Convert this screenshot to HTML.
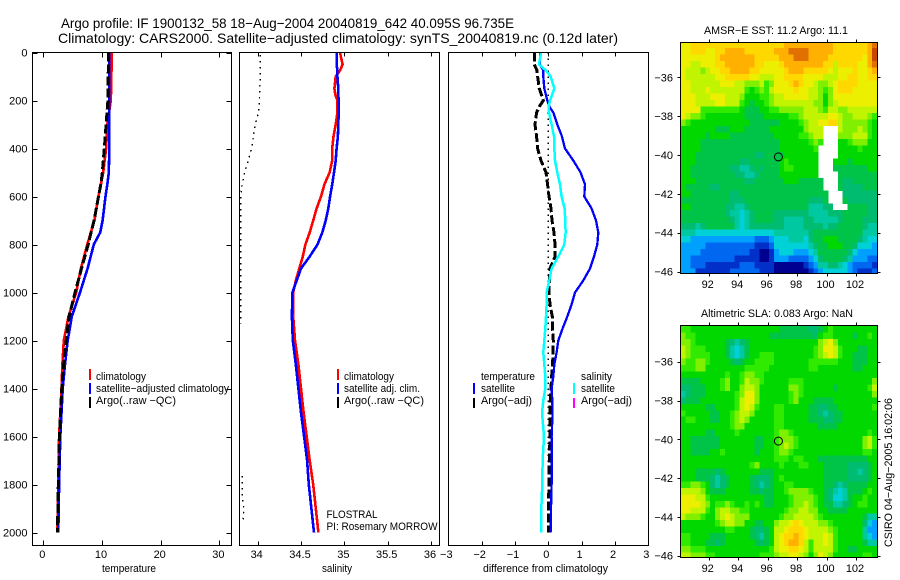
<!DOCTYPE html>
<html lang="en">
<head>
<meta charset="utf-8">
<title>Argo profile</title>
<style>
html,body{margin:0;padding:0;background:#fff;}
svg{display:block;}
text{font-family:"Liberation Sans",sans-serif;font-size:11px;fill:#000;}
.ttl{font-size:14px;}
</style>
</head>
<body>
<svg id="fig" xmlns="http://www.w3.org/2000/svg" width="900" height="580" viewBox="0 0 900 580">
<defs>
<clipPath id="clip-t"><rect x="32" y="52" width="200" height="494"/></clipPath>
<clipPath id="clip-s"><rect x="239" y="52" width="201" height="494"/></clipPath>
<clipPath id="clip-d"><rect x="448" y="52" width="201" height="494"/></clipPath>
<clipPath id="clip-m1"><rect x="680" y="42" width="198" height="232"/></clipPath>
<clipPath id="clip-m2"><rect x="680" y="325" width="198" height="232"/></clipPath>
</defs>
<g id="heat1" clip-path="url(#clip-m1)"></g>
<g id="heat2" clip-path="url(#clip-m2)"></g>
<g id="marks"></g>
<g id="axes"></g>

<text class="ttl" x="61" y="28" textLength="453" lengthAdjust="spacingAndGlyphs">Argo profile: IF 1900132_58 18−Aug−2004 20040819_642 40.095S 96.735E</text>
<text class="ttl" x="58" y="43" textLength="560" lengthAdjust="spacingAndGlyphs">Climatology: CARS2000. Satellite−adjusted climatology: synTS_20040819.nc (0.12d later)</text>

<text x="102" y="572" textLength="54" lengthAdjust="spacingAndGlyphs">temperature</text>
<text x="322" y="572" textLength="30" lengthAdjust="spacingAndGlyphs">salinity</text>
<text x="483" y="572" textLength="125" lengthAdjust="spacingAndGlyphs">difference from climatology</text>

<g>
<rect x="89" y="369" width="2" height="11" fill="#ff0000"/>
<rect x="89" y="383" width="2" height="11" fill="#0000ff"/>
<rect x="89" y="397" width="2" height="11" fill="#000"/>
<text x="96" y="380" textLength="50" lengthAdjust="spacingAndGlyphs">climatology</text>
<text x="96" y="392" textLength="133" lengthAdjust="spacingAndGlyphs">satellite−adjusted climatology</text>
<text x="96" y="404" textLength="80" lengthAdjust="spacingAndGlyphs">Argo(..raw −QC)</text>
</g>

<g>
<rect x="337" y="369" width="2" height="11" fill="#ff0000"/>
<rect x="337" y="383" width="2" height="11" fill="#0000ff"/>
<rect x="337" y="397" width="2" height="11" fill="#000"/>
<text x="344" y="380" textLength="50" lengthAdjust="spacingAndGlyphs">climatology</text>
<text x="344" y="392" textLength="76" lengthAdjust="spacingAndGlyphs">satellite adj. clim.</text>
<text x="344" y="404" textLength="80" lengthAdjust="spacingAndGlyphs">Argo(..raw −QC)</text>
</g>

<g>
<text x="481" y="380" textLength="54" lengthAdjust="spacingAndGlyphs">temperature</text>
<rect x="473" y="383" width="2" height="11" fill="#0000ff"/>
<rect x="473" y="398" width="2" height="10" fill="#000"/>
<text x="481" y="392" textLength="34" lengthAdjust="spacingAndGlyphs">satellite</text>
<text x="481" y="404" textLength="51" lengthAdjust="spacingAndGlyphs">Argo(−adj)</text>
<text x="581" y="380" textLength="31" lengthAdjust="spacingAndGlyphs">salinity</text>
<rect x="573" y="383" width="2" height="11" fill="#00ffff"/>
<rect x="573" y="398" width="2" height="10" fill="#ff00ff"/>
<text x="581" y="392" textLength="34" lengthAdjust="spacingAndGlyphs">satellite</text>
<text x="581" y="404" textLength="51" lengthAdjust="spacingAndGlyphs">Argo(−adj)</text>
</g>

<text x="326.5" y="518" textLength="51" lengthAdjust="spacingAndGlyphs">FLOSTRAL</text>
<text x="326.5" y="530" textLength="111" lengthAdjust="spacingAndGlyphs">PI: Rosemary MORROW</text>

<text x="704" y="34" textLength="144" lengthAdjust="spacingAndGlyphs">AMSR−E SST: 11.2 Argo: 11.1</text>
<text x="701" y="317" textLength="152" lengthAdjust="spacingAndGlyphs">Altimetric SLA: 0.083 Argo: NaN</text>
<text transform="translate(892,547) rotate(-90)" textLength="149" lengthAdjust="spacingAndGlyphs">CSIRO 04−Aug−2005 16:02:06</text>
</svg>

<script>
// ---- profile data ----
const depthTicks = [0,200,400,600,800,1000,1200,1400,1600,1800,2000];
const tempTicks = [0,10,20,30];
const salTicks = [34,34.5,35,35.5,36];
const diffTicks = [-3,-2,-1,0,1,2,3];
const salTickLabels = ['34','34.5','35','35.5','36'];
const lonTicks = [92,94,96,98,100,102];
const latTicks = [-36,-38,-40,-42,-44,-46];

const tempDepths = [0,100,200,300,400,500,550,600,700,750,800,900,1000,1100,1200,1300,1400,1500,1600,1800,2000];
const tempClim = [11.65,11.6,11.5,10.9,10.7,10.2,9.8,9.4,8.7,8.1,7.5,6.4,5.6,4.3,3.5,3.25,3.1,2.9,2.7,2.55,2.4];
const tempSat = [11.25,11.25,11.25,11.25,11.25,11.15,10.9,10.6,10.1,9.7,8.6,7.55,6.25,4.85,4.15,3.7,3.3,3.1,2.9,2.7,2.55];
const tempArgo = [11.1,11.05,11,10.7,10.4,10.05,9.8,9.4,8.65,8.15,7.65,6.5,5.4,4.4,3.9,3.45,3.15,2.95,2.75,2.55,2.4];

const salDepths = [0,50,75,100,150,175,200,250,300,350,400,450,500,550,600,650,700,750,800,850,900,950,1000,1100,1200,1300,1400,1500,1600,1700,1800,1900,2000];
const salClim = [34.95,34.98,34.95,34.9,34.885,34.895,34.92,34.92,34.9,34.875,34.86,34.86,34.83,34.77,34.73,34.68,34.64,34.6,34.55,34.52,34.48,34.44,34.41,34.41,34.43,34.47,34.5,34.53,34.565,34.6,34.64,34.67,34.7];
const salSat = [34.91,34.91,34.92,34.92,34.93,34.93,34.935,34.935,34.93,34.925,34.91,34.9,34.88,34.86,34.835,34.815,34.785,34.745,34.69,34.6,34.5,34.45,34.4,34.395,34.405,34.44,34.47,34.5,34.535,34.57,34.59,34.62,34.65];
const salArgoUpperDepths = [10,100,200,250,300,350,400,450,500,550,600,800,1000,1130];
const salArgoUpper = [34.03,34.03,34.02,34.01,33.97,33.95,33.93,33.89,33.85,33.82,33.805,33.805,33.805,33.805];
const salArgoLowerDepths = [1764,1800,1850,1900,1955];
const salArgoLower = [33.82,33.82,33.82,33.84,33.83];

const diffDepths = [0,50,75,100,150,200,225,250,300,350,400,450,500,550,600,650,700,750,800,850,900,950,1000,1050,1100,1150,1200,1250,1300,1350,1400,1450,1500,1600,1700,1800,1900,2000];
const diffTempSat = [-.25,-.25,-.15,-.15,-.12,-.03,.03,.15,.27,.41,.5,.75,.97,1.1,1.08,1.3,1.43,1.5,1.47,1.37,1.25,1.05,.8,.7,.57,.43,.3,.25,.18,.15,.1,.12,.13,.1,.1,.1,.08,.07];
const diffSalSat = [-.22,-.28,-.07,.07,.18,.05,.01,.02,.1,.17,.18,.2,.27,.35,.4,.49,.51,.52,.48,.3,.1,.03,-.05,-.05,-.07,-.09,-.12,-.15,-.12,-.09,-.09,-.15,-.19,-.13,-.17,-.18,-.21,-.21];
const diffTempArgo = [-.42,-.42,-.34,-.32,-.27,-.15,-.27,-.35,-.4,-.35,-.32,-.22,-.07,-.02,.02,.08,.11,.17,.2,.2,.05,.03,.02,.05,.12,.13,.15,.14,.13,.1,.08,.06,.05,.05,.03,.02,0,0];
const diffZeroDepths = [0,2000];
const diffZeroValues = [0,0];

const argoLon = 96.735;
const argoLat = -40.095;

// ---- map data: colour level per grid cell, null = no data ----
const sstLevels = [
[12,12,13,13,13,13,13,13,13,13,13,13,13,13,13,13,13,13,13,13,13,14,14,14,14,14,14,14,14,14,14,13,13,13,13,13,13,13,14,15],
[12,12,13,13,13,12,12,13,13,14,14,14,14,13,13,13,13,13,13,14,14,14,15,15,15,15,14,14,14,14,14,13,13,13,13,13,13,13,14,16],
[12,12,12,12,12,12,12,13,14,14,14,14,14,14,14,13,13,13,13,13,14,14,14,15,15,15,14,14,14,14,13,13,13,13,13,13,13,12,14,16],
[12,12,11,11,12,12,12,13,13,14,14,14,14,14,14,13,13,12,12,12,13,14,14,14,14,14,14,14,14,13,13,11,13,13,13,13,12,12,14,15],
[12,11,11,11,10,11,12,12,13,13,14,14,14,14,13,13,12,12,12,12,12,13,14,14,14,13,13,13,13,13,12,11,12,12,12,13,12,12,13,14],
[12,11,11,11,11,11,11,12,12,13,13,13,13,13,12,12,11,11,11,12,12,13,13,13,13,12,12,12,12,11,11,11,12,12,13,13,12,12,13,13],
[12,12,11,11,11,11,11,11,12,12,12,11,11,10,10,10,11,9,10,12,12,12,13,14,13,12,12,11,10,10,11,12,13,13,13,13,12,12,12,12],
[12,12,11,11,11,12,11,11,11,11,11,11,11,9,8,9,10,9,11,12,12,12,12,13,12,12,11,11,10,9,10,12,13,13,13,12,12,12,12,12],
[12,12,12,11,11,11,12,12,12,11,11,11,10,8,8,8,9,9,10,11,11,12,12,12,12,12,11,11,10,8,10,12,12,12,12,12,12,12,12,12],
[12,12,12,11,11,11,11,12,12,11,11,11,9,8,7,8,8,9,10,11,11,11,11,11,11,11,11,10,10,8,10,11,12,12,12,12,12,12,12,12],
[12,12,12,12,9,9,9,9,9,9,9,9,8,7,7,7,8,8,9,9,10,10,10,10,10,11,11,11,10,9,11,11,10,10,11,11,11,11,11,11],
[12,11,10,10,9,8,8,8,8,8,8,8,8,7,7,7,7,8,8,8,8,8,9,9,10,11,11,11,11,11,12,12,11,10,10,11,11,11,10,9],
[10,9,8,8,8,8,8,8,8,8,8,8,8,8,7,7,7,7,7,7,8,8,8,8,9,10,11,11,12,12,13,13,11,10,10,10,10,10,9,8],
[8,8,8,8,8,8,8,7,7,7,8,8,8,7,7,7,7,7,8,8,8,8,8,8,8,10,11,11,11,null,null,null,11,10,10,10,11,10,9,8],
[8,8,8,8,8,7,8,8,8,8,7,7,7,7,7,7,7,7,7,8,8,8,8,8,9,9,10,11,11,null,null,null,10,10,10,11,11,11,9,8],
[8,8,8,8,7,7,7,7,7,7,7,7,7,7,7,7,7,7,7,7,8,8,8,8,8,8,9,10,9,null,null,null,8,8,9,10,10,10,8,8],
[8,8,8,8,7,7,7,7,7,7,7,7,7,7,7,7,7,7,7,7,8,8,8,8,8,8,8,9,null,null,null,null,8,8,8,8,9,8,8,8],
[8,8,8,7,7,7,7,7,7,7,7,7,7,7,7,6,6,7,7,7,7,8,8,8,8,8,8,8,null,null,null,null,8,8,8,8,8,8,8,8],
[8,8,8,7,7,7,7,7,7,7,7,7,6,6,7,7,7,7,7,7,8,9,8,8,8,8,8,8,null,null,null,8,8,8,7,8,8,8,8,8],
[8,8,7,7,7,7,7,7,7,7,6,6,5,5,6,7,6,7,7,7,8,9,9,8,8,8,8,8,null,null,null,7,7,7,7,7,7,7,8,8],
[8,8,7,7,7,7,7,7,7,7,7,6,6,5,5,6,7,7,7,7,8,8,8,8,8,8,8,8,null,null,null,null,7,7,7,7,7,7,7,7],
[8,8,8,7,7,7,7,7,7,7,7,7,7,6,6,7,7,7,7,7,7,8,8,8,7,7,7,7,7,null,null,null,7,6,6,7,7,7,7,7],
[8,7,7,7,7,7,6,6,7,7,7,7,7,7,7,7,7,7,7,7,7,7,7,7,7,7,7,7,7,null,null,null,7,6,6,6,6,7,7,7],
[8,8,7,7,7,7,7,7,7,7,6,6,7,7,7,7,7,7,7,7,7,7,7,7,7,7,7,7,7,7,null,null,null,6,6,6,6,6,6,6],
[7,7,7,7,7,7,7,7,7,7,6,6,6,7,7,7,7,7,7,7,7,7,7,7,7,7,6,6,6,7,null,null,null,7,6,6,6,6,6,6],
[8,8,7,7,7,7,7,7,7,6,6,5,5,6,7,7,7,7,7,7,7,7,7,7,7,7,5,5,5,6,6,null,null,null,7,7,7,7,6,6],
[7,7,7,7,7,7,7,7,7,6,5,5,4,5,6,7,7,7,7,6,6,6,6,6,6,6,5,5,5,5,6,6,6,7,7,7,7,7,6,6],
[7,7,7,7,7,7,7,7,7,7,6,5,4,5,6,7,7,7,7,6,6,5,5,5,5,6,6,5,5,5,5,5,6,7,7,7,7,6,6,6],
[6,6,6,5,6,7,7,7,7,7,7,5,4,5,6,6,6,6,6,6,6,5,5,5,5,6,6,6,6,5,6,6,7,7,7,7,7,6,5,5],
[5,5,5,4,4,4,4,4,4,4,4,4,4,4,4,4,4,4,4,5,5,5,5,5,5,5,6,7,7,7,7,7,7,7,7,7,7,5,5,5],
[4,4,3,3,3,3,3,3,3,3,3,3,3,3,3,2,2,2,3,4,4,4,5,5,5,4,6,7,7,8,8,8,7,7,7,7,6,5,4,4],
[3,3,3,3,3,2,2,2,2,2,2,2,2,2,2,1,1,1,2,4,4,4,4,4,4,4,5,6,7,7,8,8,8,7,7,6,4,4,4,3],
[3,3,3,3,2,2,2,2,2,2,2,2,2,2,1,1,0,0,1,3,4,4,4,3,3,3,4,5,7,7,7,7,7,7,6,4,3,3,3,3],
[3,3,2,2,2,2,2,2,2,2,2,1,1,1,1,1,0,0,1,3,3,3,2,2,2,2,3,4,6,7,7,7,7,6,5,3,3,3,2,2],
[3,3,2,2,2,1,1,1,1,1,1,1,2,2,2,1,1,1,1,0,0,0,0,0,0,1,2,3,5,5,6,6,5,4,3,2,2,2,2,1],
[3,3,3,1,1,1,1,1,1,1,2,2,2,2,2,2,1,1,1,0,0,0,0,0,0,0,1,2,3,4,4,4,4,4,3,2,1,1,1,2]
];
const slaLevels = [
[9,9,8,8,8,8,8,8,8,8,8,8,8,8,8,8,8,8,8,8,7,7,7,7,7,7,6,6,7,8,9,8,8,8,8,8,8,8,8,8],
[10,9,9,8,8,8,8,8,8,8,8,8,8,8,8,8,8,8,7,7,7,7,7,7,7,7,7,6,8,9,9,8,8,8,8,7,8,8,9,8],
[10,10,9,8,8,8,8,8,8,7,6,5,6,7,8,8,8,8,8,8,8,8,8,8,8,8,8,8,10,11,12,10,8,8,8,8,8,8,8,8],
[11,10,9,9,9,8,8,8,8,7,5,4,5,7,8,8,8,8,8,8,8,8,8,8,8,8,8,9,10,12,12,11,9,8,8,8,7,7,8,8],
[11,10,9,9,9,9,8,8,8,7,5,4,5,7,8,8,9,9,9,8,8,8,8,8,8,8,8,9,10,11,12,11,9,8,8,7,7,7,8,8],
[10,9,9,10,10,9,8,8,8,8,7,6,7,8,8,9,9,9,9,8,8,8,8,8,8,8,9,9,9,9,9,9,8,8,8,7,7,7,8,8],
[9,9,9,10,10,8,8,8,8,8,8,8,8,9,9,9,9,9,8,8,8,8,8,8,8,8,9,9,8,8,8,8,8,8,8,7,7,8,8,8],
[8,8,8,8,8,8,8,8,8,9,8,8,9,10,10,9,9,8,8,8,8,8,8,8,8,8,8,8,8,8,8,8,8,8,8,8,8,8,8,8],
[7,7,7,7,8,8,8,8,9,10,8,8,9,11,10,10,9,8,8,8,8,8,9,9,9,8,8,8,8,8,8,8,8,8,8,8,8,8,8,10],
[6,6,7,7,7,8,8,8,9,10,8,8,10,11,11,10,8,8,8,8,8,8,10,10,9,8,8,8,8,8,8,7,8,8,8,8,8,8,9,11],
[5,6,7,7,7,8,8,8,8,8,8,9,10,12,12,10,8,8,8,8,8,8,9,10,9,8,8,8,8,8,8,8,8,8,8,8,8,8,8,10],
[6,7,7,7,8,8,8,8,8,8,8,9,11,12,12,10,8,8,8,8,8,8,9,10,8,8,8,7,7,7,7,8,8,8,8,8,8,8,8,8],
[8,8,8,8,8,7,7,8,8,8,8,9,11,12,11,9,8,8,8,9,9,8,8,8,8,8,7,7,6,6,7,7,8,8,8,8,8,8,8,9],
[9,8,8,8,8,8,7,7,8,8,9,10,11,11,10,8,8,8,8,9,9,8,8,8,8,8,7,7,6,5,6,7,7,8,8,8,8,8,8,8],
[8,9,9,8,8,8,7,7,8,8,9,10,11,10,8,8,8,8,8,9,9,8,8,8,8,8,7,7,7,6,6,7,7,8,8,8,8,8,8,8],
[8,8,8,8,8,8,8,8,8,8,9,10,10,8,8,8,8,8,8,9,9,8,8,8,8,8,8,8,7,7,7,7,8,8,8,8,8,8,8,8],
[8,8,8,8,8,7,7,8,8,8,8,9,8,8,8,8,8,8,8,9,10,10,9,8,8,8,8,8,8,8,8,8,8,8,8,8,8,8,9,8],
[8,8,7,7,7,7,7,7,8,8,8,8,8,8,8,7,7,8,8,9,10,10,10,9,8,8,8,8,8,8,8,8,8,8,8,8,8,10,11,9],
[8,8,7,7,7,7,7,7,8,8,8,8,8,8,8,7,7,8,8,9,10,11,10,9,8,8,8,8,8,8,8,8,8,8,8,8,8,10,11,9],
[8,8,7,7,7,7,8,8,9,8,8,8,8,8,8,7,8,8,8,9,10,10,9,8,8,8,8,8,8,8,8,8,8,8,8,8,8,9,9,8],
[8,8,8,8,8,8,8,8,8,8,8,8,8,8,8,8,8,8,8,9,9,9,8,9,9,8,8,8,7,7,7,7,7,7,7,7,7,7,8,8],
[8,8,8,8,8,8,8,8,8,8,8,8,8,8,9,10,8,8,8,8,9,8,8,8,9,9,8,8,8,7,7,7,7,7,6,6,6,6,7,8],
[8,8,8,7,7,7,7,6,7,8,8,8,8,8,8,8,7,7,7,8,8,8,8,8,8,8,8,8,8,7,7,7,7,7,6,6,5,6,7,8],
[8,8,8,7,7,7,6,5,6,7,8,8,8,8,7,6,6,6,7,8,9,8,8,8,8,8,8,8,8,7,7,7,7,7,6,6,6,6,7,8],
[9,9,10,10,9,8,6,5,6,7,8,8,8,8,7,6,5,6,7,8,8,9,9,8,8,8,8,8,8,7,7,6,5,6,7,7,7,7,8,8],
[11,11,11,11,10,8,7,7,7,8,8,8,8,8,7,7,6,7,7,8,8,9,10,10,10,10,9,8,8,7,6,5,4,5,7,7,7,8,9,8],
[12,12,12,11,11,9,8,8,8,8,8,8,8,8,8,8,8,7,7,8,8,8,9,10,10,10,10,9,8,7,6,4,4,5,7,8,8,9,8,8],
[12,12,12,12,11,10,8,9,9,10,9,8,8,9,8,9,8,7,7,8,8,8,9,10,10,11,10,9,8,7,7,5,5,6,7,8,9,9,8,8],
[12,12,11,11,11,9,8,10,11,11,10,10,9,9,8,8,8,8,8,8,8,9,10,10,11,11,10,10,8,8,7,7,7,7,8,8,8,8,8,8],
[11,10,10,10,9,8,8,10,11,12,11,10,10,10,8,8,8,8,8,8,9,10,10,11,11,11,11,10,9,8,8,8,8,8,8,8,8,7,5,5],
[8,8,8,8,8,8,8,9,10,11,11,10,10,8,8,7,7,8,8,10,11,11,12,13,12,11,11,11,10,10,9,8,8,8,8,8,8,6,4,3],
[8,8,8,8,8,8,8,8,8,9,9,8,8,8,7,6,6,7,8,11,11,12,13,13,13,12,11,11,11,11,10,9,8,8,8,8,8,5,3,3],
[9,9,8,8,8,8,7,7,7,8,8,8,8,8,7,6,5,7,8,11,12,13,13,14,13,12,11,11,11,12,11,9,8,8,8,8,8,5,4,3],
[9,9,8,8,8,7,7,6,7,8,8,8,8,8,8,7,6,7,8,11,12,13,14,14,13,11,9,11,11,12,11,9,8,8,8,8,8,7,5,5],
[10,10,9,9,9,8,8,8,8,8,8,8,8,8,8,8,8,8,9,11,12,12,13,13,12,11,9,11,11,11,11,9,8,8,7,7,8,8,8,8],
[11,11,10,10,10,9,9,8,8,8,8,8,8,8,8,8,9,9,9,10,11,11,12,12,11,10,8,10,12,11,10,8,8,8,8,8,8,9,9,8]
];
const levelColors = ['#000090','#0030c8','#0068f0','#00a0ff','#00d0d8','#00c8a0','#00bc70','#00c448','#00d800','#30ea00','#80f000','#c0f400','#ecf000','#ffd800','#ffb000','#e07000','#c84800'];

// ---- scales ----
const yDepth = d => 52.5 + d * 0.24;
const xTemp = t => 43.3 + t * 5.87;
const xSal = s => 257.7 + (s - 34) * 86.67;
const xDiff = v => 548.3 + v * 33.33;
const xLon = lon => 708.7 + (lon - 92) * 14.73;
const yLat1 = lat => 77.3 + (-36 - lat) * 19.43;
const yLat2 = lat => 361.7 + (-36 - lat) * 19.4;
const gridLon0 = 90.1;
const gridLat0 = -34.17;
const gridStep = 1 / 3;

const NS = 'http://www.w3.org/2000/svg';
const marks = document.getElementById('marks');
const axes = document.getElementById('axes');

function mk(tag, attrs, parent) {
  const el = document.createElementNS(NS, tag);
  for (const k in attrs) el.setAttribute(k, attrs[k]);
  parent.appendChild(el);
  return el;
}

function line(values, depths, xf, color, width, dash, clip, name) {
  const pts = values.map((v, i) => xf(v).toFixed(1) + ',' + yDepth(depths[i]).toFixed(1)).join(' ');
  const el = mk('polyline', {points: pts, fill: 'none', stroke: color, 'stroke-width': width, 'shape-rendering': 'crispEdges', 'clip-path': 'url(#' + clip + ')'}, marks);
  if (dash) el.setAttribute('stroke-dasharray', dash);
  
  
}

// temperature panel
line(tempClim, tempDepths, xTemp, '#ff0000', 2.6, null, 'clip-t', 'temperature-climatology-line');
line(tempSat, tempDepths, xTemp, '#0000ff', 2.6, null, 'clip-t', 'temperature-satellite-line');
line(tempArgo, tempDepths, xTemp, '#000000', 3, '9 3', 'clip-t', 'temperature-argo-line');
// salinity panel
line(salClim, salDepths, xSal, '#ff0000', 2.6, null, 'clip-s', 'salinity-climatology-line');
line(salSat, salDepths, xSal, '#0000ff', 2.6, null, 'clip-s', 'salinity-satellite-line');
line(salArgoUpper, salArgoUpperDepths, xSal, '#000000', 1.4, '1.5 4.5', 'clip-s', 'salinity-argo-upper-dots');
line(salArgoLower, salArgoLowerDepths, xSal, '#000000', 1.4, '1.5 4.5', 'clip-s', 'salinity-argo-lower-dots');
// difference panel
line(diffZeroValues, diffZeroDepths, xDiff, '#000000', 1.2, '1.5 4.5', 'clip-d', 'zero-difference-dots');
line(diffTempArgo, diffDepths, xDiff, '#000000', 3, '9 3', 'clip-d', 'difference-argo-line');
line(diffTempSat, diffDepths, xDiff, '#0000ff', 2.3, null, 'clip-d', 'difference-temperature-satellite-line');
line(diffSalSat, diffDepths, xDiff, '#00ffff', 2.5, null, 'clip-d', 'difference-salinity-satellite-line');

// heatmaps
function heat(grid, gid, yf, name) {
  const g = document.getElementById(gid);
  grid.forEach((row, r) => row.forEach((lev, c) => {
    if (lev === null) return;
    const x0 = xLon(gridLon0 + c * gridStep), x1 = xLon(gridLon0 + (c + 1) * gridStep);
    const y0 = yf(gridLat0 - r * gridStep), y1 = yf(gridLat0 - (r + 1) * gridStep);
    const cell = mk('rect', {x: x0.toFixed(2), y: y0.toFixed(2), width: (x1 - x0 + 0.3).toFixed(2), height: (y1 - y0 + 0.3).toFixed(2), fill: levelColors[lev], 'shape-rendering': 'crispEdges'}, g);
    
    
  }));
}
heat(sstLevels, 'heat1', yLat1, 'sst-cell');
heat(slaLevels, 'heat2', yLat2, 'sla-cell');

// axes helpers
function seg(x1, y1, x2, y2, name) {
  const el = mk('line', {x1: Math.round(x1) + .5, y1: Math.round(y1) + .5, x2: Math.round(x2) + .5, y2: Math.round(y2) + .5, stroke: '#000', 'stroke-width': 1, 'shape-rendering': 'crispEdges'}, axes);
  
  
}
function label(str, x, y, anchor, name) {
  const el = mk('text', {x: x, y: y, 'text-anchor': anchor}, axes);
  el.textContent = str;
  
  
}
function frame(l, t, r, b, name) {
  const el = mk('rect', {x: l + .5, y: t + .5, width: r - l, height: b - t, fill: 'none', stroke: '#000', 'stroke-width': 1, 'shape-rendering': 'crispEdges'}, axes);
  
  
}
const fmt = v => String(v).replace('-', '\u2212');

// profile panels
frame(32, 52, 231, 545, 'temperature-plot-frame');
frame(239, 52, 439, 545, 'salinity-plot-frame');
frame(448, 52, 648, 545, 'difference-plot-frame');

depthTicks.forEach(d => {
  seg(32, yDepth(d), 37, yDepth(d), 'depth-tick-left');
  seg(226, yDepth(d), 231, yDepth(d), 'depth-tick-right');
  label(String(d), 27.5, (yDepth(d) + 4).toFixed(1), 'end', 'depth-tick-label');
});
tempTicks.forEach(t => {
  seg(xTemp(t), 52, xTemp(t), 57, 'temperature-tick-top');
  seg(xTemp(t), 540, xTemp(t), 545, 'temperature-tick-bottom');
  label(String(t), (xTemp(t) - 1).toFixed(1), 558, 'middle', 'temperature-tick-label');
});
salTicks.forEach((s, i) => {
  seg(xSal(s), 52, xSal(s), 56, 'salinity-tick-top');
  seg(xSal(s), 541, xSal(s), 545, 'salinity-tick-bottom');
  label(salTickLabels[i], (xSal(s) - 1).toFixed(1), 558, 'middle', 'salinity-tick-label');
});
diffTicks.forEach(v => {
  seg(xDiff(v), 52, xDiff(v), 56, 'difference-tick-top');
  seg(xDiff(v), 541, xDiff(v), 545, 'difference-tick-bottom');
  label(fmt(v), (xDiff(v) - 2).toFixed(1), 558, 'middle', 'difference-tick-label');
});

// map panels
function mapAxes(top, bottom, yf, labelY, prefix) {
  frame(680, top, 877, bottom, prefix + '-map-frame');
  lonTicks.forEach(lon => {
    seg(xLon(lon), top - 3, xLon(lon), top, prefix + '-lon-tick-top');
    seg(xLon(lon), bottom, xLon(lon), bottom + 3, prefix + '-lon-tick-bottom');
    label(String(lon), (xLon(lon) - 1).toFixed(1), labelY, 'middle', prefix + '-lon-label');
  });
  latTicks.forEach(lat => {
    seg(677, yf(lat), 680, yf(lat), prefix + '-lat-tick-left');
    seg(877, yf(lat), 880, yf(lat), prefix + '-lat-tick-right');
    label(fmt(lat), 673, (yf(lat) + 4).toFixed(1), 'end', prefix + '-lat-label');
  });
  const c = mk('circle', {cx: xLon(argoLon).toFixed(1), cy: yf(argoLat).toFixed(1), r: 4, fill: 'none', stroke: '#000', 'stroke-width': 1}, axes);
  
  
}
mapAxes(42, 273, yLat1, 288, 'sst');
mapAxes(325, 557, yLat2, 572, 'sla');
</script>
</body>
</html>
